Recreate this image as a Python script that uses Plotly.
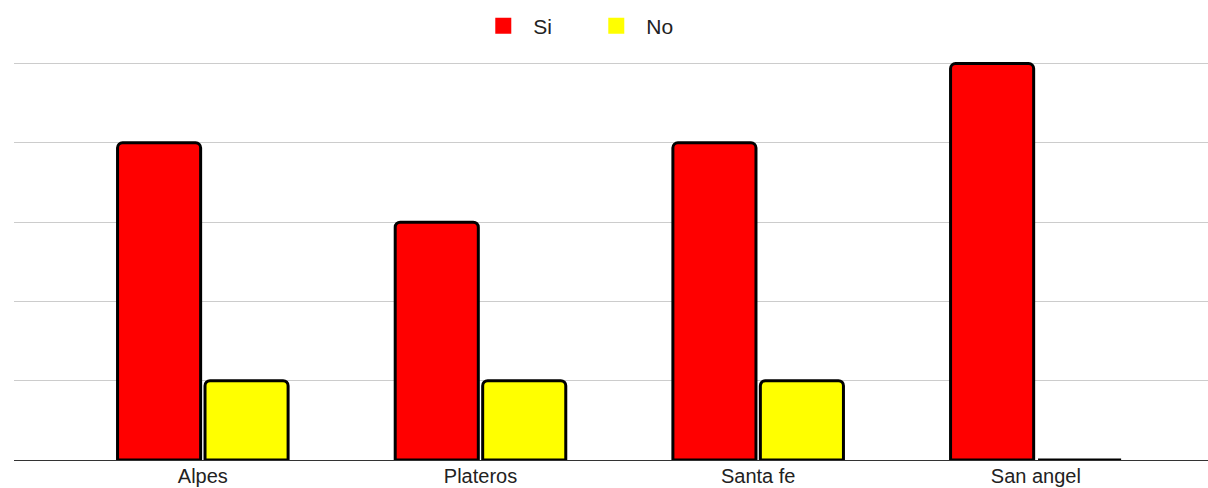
import plotly.graph_objects as go

categories = ["Alpes", "Plateros", "Santa fe", "San angel"]
si_values = [4, 3, 4, 5]
no_values = [1, 1, 1, 0]
series_names = ["Si", "No"]
series_colors = ["#ff0000", "#ffff00"]

fig = go.Figure()
for name, vals, col in zip(series_names, [si_values, no_values], series_colors):
    fig.add_trace(go.Bar(
        name=name, x=categories, y=vals, showlegend=False, legendgroup=name,
        marker=dict(color=col, line=dict(color="#000000", width=3), cornerradius=5),
    ))
# legend-only entries (no data) to get plain filled squares like the reference
for name, col in zip(series_names, series_colors):
    fig.add_trace(go.Scatter(
        name=name, x=[None], y=[None], mode="markers", legendgroup=name,
        marker=dict(symbol="square", size=22, color=col, line=dict(width=0)),
    ))

fig.update_layout(
    width=1208, height=488,
    margin=dict(l=14, r=0, t=62, b=28),
    paper_bgcolor="white", plot_bgcolor="white",
    barmode="group", bargap=0.37, bargroupgap=0.05,
    font=dict(family="Liberation Sans, Arial, sans-serif", size=21, color="#222222"),
    showlegend=True,
    legend=dict(orientation="h", x=0.4793, xanchor="center", y=1 - 26 / 488, yanchor="middle",
                yref="container", font=dict(size=21, color="#222222"),
                itemwidth=50, entrywidth=48),
    xaxis=dict(range=[-0.68, 3.62], showgrid=False, showline=True, linecolor="#333333",
               linewidth=1, ticks="", tickfont=dict(size=20, color="#222222"),
               ticklabelstandoff=-2, automargin=False),
    yaxis=dict(range=[0, 5.02], dtick=1, showgrid=True, gridcolor="#cccccc", gridwidth=1,
               showticklabels=False, zeroline=False, showline=False, automargin=False),
)

fig.write_html("out.html", config={"displayModeBar": False},
               post_script="document.body.style.margin='0';")
